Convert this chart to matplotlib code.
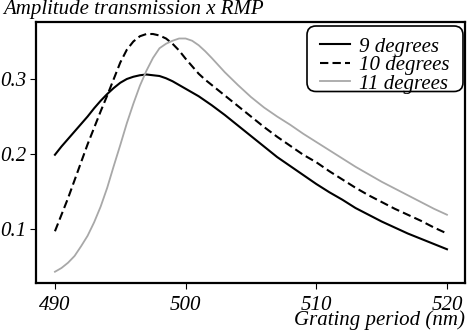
import matplotlib
matplotlib.use("Agg")
import matplotlib.pyplot as plt
from matplotlib.patches import FancyBboxPatch
from matplotlib.transforms import IdentityTransform

# grating period (nm): half steps up to 502, then 1 nm steps
period = [490, 490.5, 491, 491.5, 492, 492.5, 493, 493.5, 494, 494.5, 495, 495.5,
          496, 496.5, 497, 497.5, 498, 498.5, 499, 499.5, 500, 500.5, 501, 501.5,
          502, 503, 504, 505, 506, 507, 508, 509, 510, 511, 512, 513, 514, 515,
          516, 517, 518, 519, 520]

# amplitude transmission x RMP
deg9 = [0.199, 0.210, 0.220, 0.230, 0.240, 0.250, 0.261, 0.271, 0.280, 0.288,
        0.295, 0.300, 0.303, 0.305, 0.306, 0.305, 0.304, 0.301, 0.297, 0.292,
        0.287, 0.282, 0.277, 0.271, 0.265, 0.252, 0.238, 0.224, 0.210, 0.196,
        0.184, 0.172, 0.160, 0.149, 0.139, 0.128, 0.119, 0.110, 0.102, 0.094,
        0.087, 0.080, 0.073]
deg10 = [0.097, 0.119, 0.141, 0.165, 0.189, 0.213, 0.235, 0.257, 0.278, 0.300,
         0.322, 0.339, 0.350, 0.357, 0.360, 0.360, 0.358, 0.354, 0.347, 0.338,
         0.327, 0.317, 0.307, 0.299, 0.292, 0.278, 0.264, 0.250, 0.236, 0.223,
         0.211, 0.199, 0.189, 0.177, 0.166, 0.155, 0.145, 0.136, 0.127, 0.119,
         0.111, 0.102, 0.094]
deg11 = [0.043, 0.048, 0.055, 0.064, 0.077, 0.091, 0.109, 0.130, 0.155, 0.184,
         0.212, 0.241, 0.267, 0.291, 0.311, 0.328, 0.341, 0.347, 0.351, 0.354,
         0.354, 0.351, 0.345, 0.337, 0.328, 0.309, 0.292, 0.276, 0.262, 0.250,
         0.239, 0.227, 0.216, 0.205, 0.194, 0.183, 0.173, 0.163, 0.154, 0.145,
         0.136, 0.127, 0.119]

labels = ["9 degrees", "10 degrees", "11 degrees"]
xticks = [490, 500, 510, 520]
yticks = [0.1, 0.2, 0.3]

plt.rcParams['font.family'] = ['Liberation Serif', 'DejaVu Serif']
plt.rcParams['font.style'] = 'italic'
plt.rcParams['font.size'] = 15

fig = plt.figure(figsize=(4.68, 3.30), dpi=100)
ax = fig.add_axes([36 / 468, 1 - 283 / 330, (465 - 36) / 468, (283 - 22) / 330])

l9, = ax.plot(period, deg9, color='black', lw=1.5)
l10, = ax.plot(period, deg10, color='black', lw=1.5, ls=(0, (4, 2)))
l11, = ax.plot(period, deg11, color='#a8a8a8', lw=1.3)

ax.set_xlim(488.55, 521.38)
ax.set_ylim(0.028, 0.376)
ax.set_xticks(xticks)
ax.set_xticklabels([str(t) for t in xticks])
ax.set_yticks(yticks)
ax.set_yticklabels([f"{t:.1f}" for t in yticks])
ax.tick_params(direction='out', length=4, width=0.8)
ax.tick_params(axis='x', pad=5)
ax.tick_params(axis='y', pad=3)
for s in ax.spines.values():
    s.set_linewidth(1.6)

# rounded legend box, drawn in pixels
box = FancyBboxPatch((307, 330 - 91.5), 156, 65.5, boxstyle="round,pad=0,rounding_size=9",
                     transform=IdentityTransform(), fc='white', ec='black', lw=1.2, zorder=3)
fig.add_artist(box)
leg = fig.legend([l9, l10, l11], labels, loc='upper left',
                 bbox_to_anchor=(320 / 468, 1 - 37 / 330), frameon=False,
                 handlelength=1.45, handletextpad=0.43, labelspacing=-0.05,
                 borderpad=0, borderaxespad=0)
leg.set_zorder(4)

fig.text(3 / 468, 1 - 14 / 330, "Amplitude transmission x RMP", ha='left', va='baseline')
fig.text(465 / 468, 1 - 325.5 / 330, "Grating period (nm)", ha='right', va='baseline')

fig.savefig("out.png", dpi=100)
